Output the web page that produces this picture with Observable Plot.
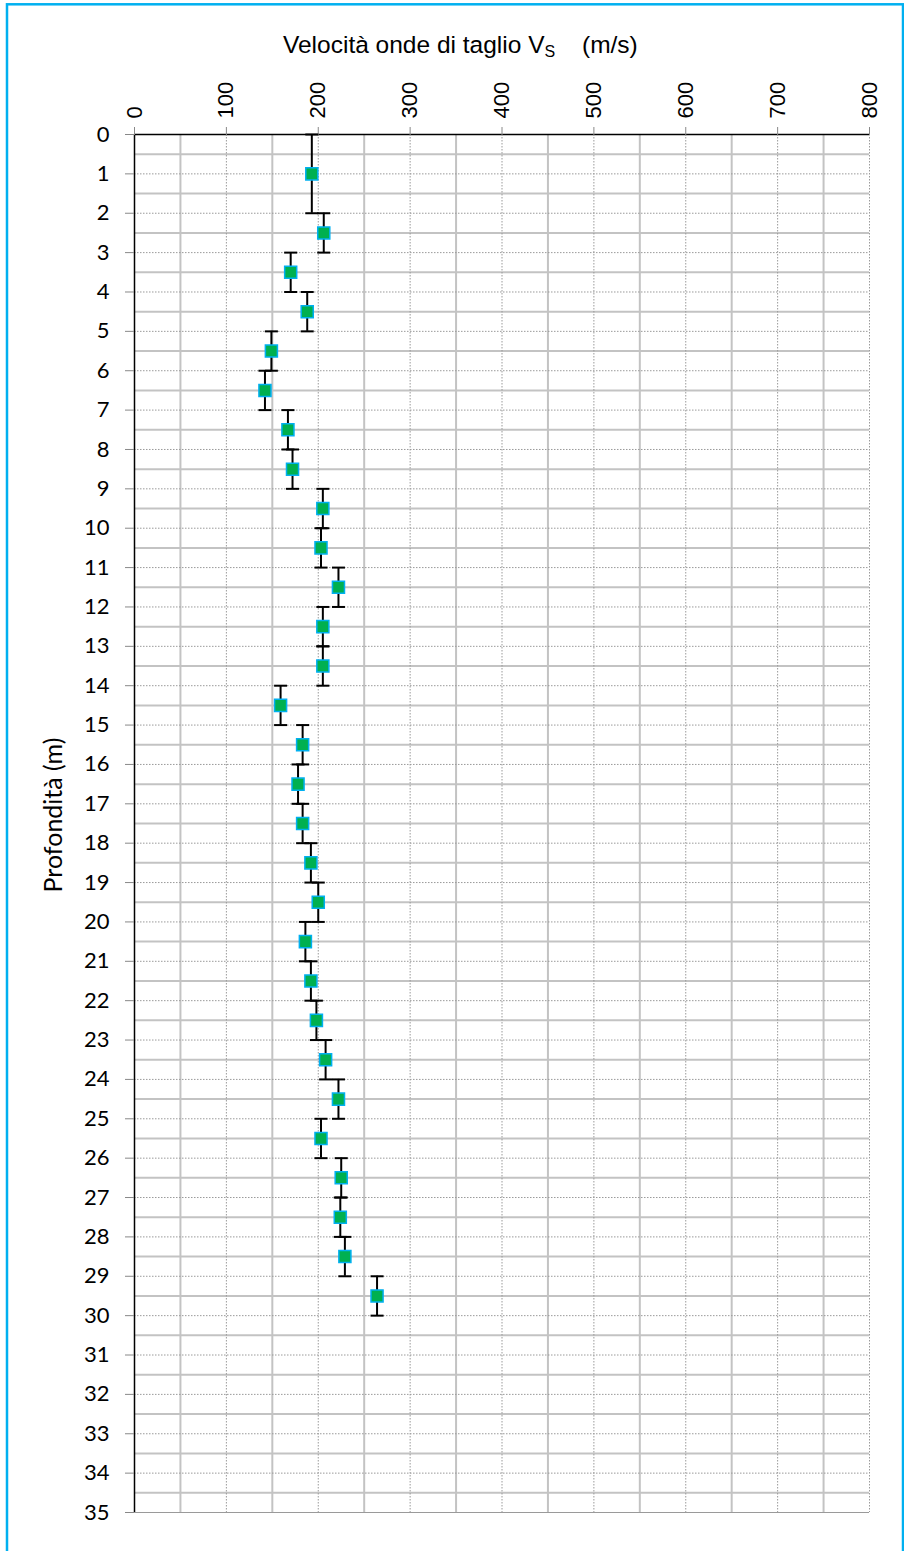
<!DOCTYPE html>
<html>
<head>
<meta charset="utf-8">
<script src="https://cdn.jsdelivr.net/npm/d3@7"></script>
<script src="https://cdn.jsdelivr.net/npm/@observablehq/plot@0.6"></script>
<style>
  html, body { margin: 0; padding: 0; background: #fff; }
  #chart svg { display: block; }
</style>
</head>
<body>
<div id="chart"></div>
<script>
// Layer tops and bottoms (m)
const layerTop    = [0, 2, 3, 4, 5, 6, 7, 8, 9, 10, 11, 12, 13, 14, 15, 16, 17, 18, 19, 20, 21, 22, 23, 24, 25, 26, 27, 28, 29];
const layerBottom = [2, 3, 4, 5, 6, 7, 8, 9, 10, 11, 12, 13, 14, 15, 16, 17, 18, 19, 20, 21, 22, 23, 24, 25, 26, 27, 28, 29, 30];
// Shear wave velocity Vs (m/s)
const vs = [193, 206, 170, 188, 149, 142, 167, 172, 205, 203, 222, 205, 205, 159, 183, 178, 183, 192, 200, 186, 192, 198, 208, 222, 203, 225, 224, 229, 264];

const xTicks = [0, 100, 200, 300, 400, 500, 600, 700, 800];
const xMinor = [50, 150, 250, 350, 450, 550, 650, 750];
const yTicks = d3.range(0, 36);
const yMinor = d3.range(0.5, 35, 1);

const titleMain = "Velocità onde di taglio V";
const titleSub = "S";
const titleUnit = "(m/s)";
const yLabel = "Profondità (m)";

const data = vs.map((v, i) => ({
  vs: v,
  top: layerTop[i],
  bottom: layerBottom[i],
  mid: (layerTop[i] + layerBottom[i]) / 2
}));

const capSymbol = {
  draw(context, size) {
    const w = Math.sqrt(size / Math.PI);
    context.moveTo(-w, 0);
    context.lineTo(w, 0);
  }
};

const chart = Plot.plot({
  width: 904,
  height: 1551,
  marginLeft: 134,
  marginRight: 35,
  marginTop: 134,
  marginBottom: 39,
  style: { background: "white", overflow: "visible" },
  x: { domain: [0, 800] },
  y: { domain: [0, 35], reverse: true },
  marks: [
    Plot.ruleX(xMinor, { stroke: "#c3c3c3", strokeWidth: 2 }),
    Plot.ruleY(yMinor, { stroke: "#c3c3c3", strokeWidth: 2 }),
    Plot.ruleX(xTicks, { stroke: "#9a9a9a", strokeWidth: 1, strokeDasharray: "1.5,1.5" }),
    Plot.ruleY(yTicks, { stroke: "#9a9a9a", strokeWidth: 1, strokeDasharray: "1.5,1.5" }),
    Plot.ruleY([35], { stroke: "#9a9a9a", strokeWidth: 1 }),
    Plot.ruleX([0], { stroke: "black", strokeWidth: 1.5 }),
    Plot.ruleY([0], { stroke: "black", strokeWidth: 1.5 }),
    Plot.axisX({
      anchor: "top",
      ticks: xTicks,
      tickFormat: d => String(d),
      tickRotate: -90,
      tickSize: 8,
      tickPadding: 8,
      stroke: "#888",
      fontSize: 22,
      fontFamily: "Liberation Sans, Arial, sans-serif",
      label: null
    }),
    Plot.axisY({
      anchor: "left",
      ticks: yTicks,
      tickFormat: d => String(d),
      tickSize: 9,
      tickPadding: 16,
      stroke: "#888",
      fontSize: 22,
      fontFamily: "Lato, sans-serif",
      label: null
    }),
    Plot.ruleX(data, { x: "vs", y1: "top", y2: "bottom", stroke: "black", strokeWidth: 2 }),
    Plot.dot(data, { x: "vs", y: "top", symbol: capSymbol, r: 6.5, stroke: "black", strokeWidth: 2, fill: "none" }),
    Plot.dot(data, { x: "vs", y: "bottom", symbol: capSymbol, r: 6.5, stroke: "black", strokeWidth: 2, fill: "none" }),
    Plot.dot(data, { x: "vs", y: "mid", symbol: "square", r: 6.8, fill: "#00b050", stroke: "#00b0f0", strokeWidth: 1.5 })
  ]
});

document.getElementById("chart").appendChild(chart);

const svg = d3.select(chart);

// Title
const title = svg.append("text")
  .attr("x", 283)
  .attr("y", 53)
  .attr("text-anchor", "start")
  .attr("font-family", "Liberation Sans, Arial, sans-serif")
  .attr("font-size", 24.5)
  .attr("fill", "black");
title.append("tspan").text(titleMain);
title.append("tspan").attr("font-size", 16).attr("dy", 4).text(titleSub);
title.append("tspan").attr("x", 582).attr("dy", -4).text(titleUnit);

// Y label
svg.append("text")
  .attr("transform", "translate(62,815) rotate(-90)")
  .attr("text-anchor", "middle")
  .attr("font-family", "Lato, sans-serif")
  .attr("font-size", 25)
  .attr("fill", "black")
  .text(yLabel);

// Outer chart frame
svg.append("rect")
  .attr("x", 7)
  .attr("y", 4.3)
  .attr("width", 896)
  .attr("height", 1570)
  .attr("fill", "none")
  .attr("stroke", "#00b0f0")
  .attr("stroke-width", 2.5);
</script>
</body>
</html>
